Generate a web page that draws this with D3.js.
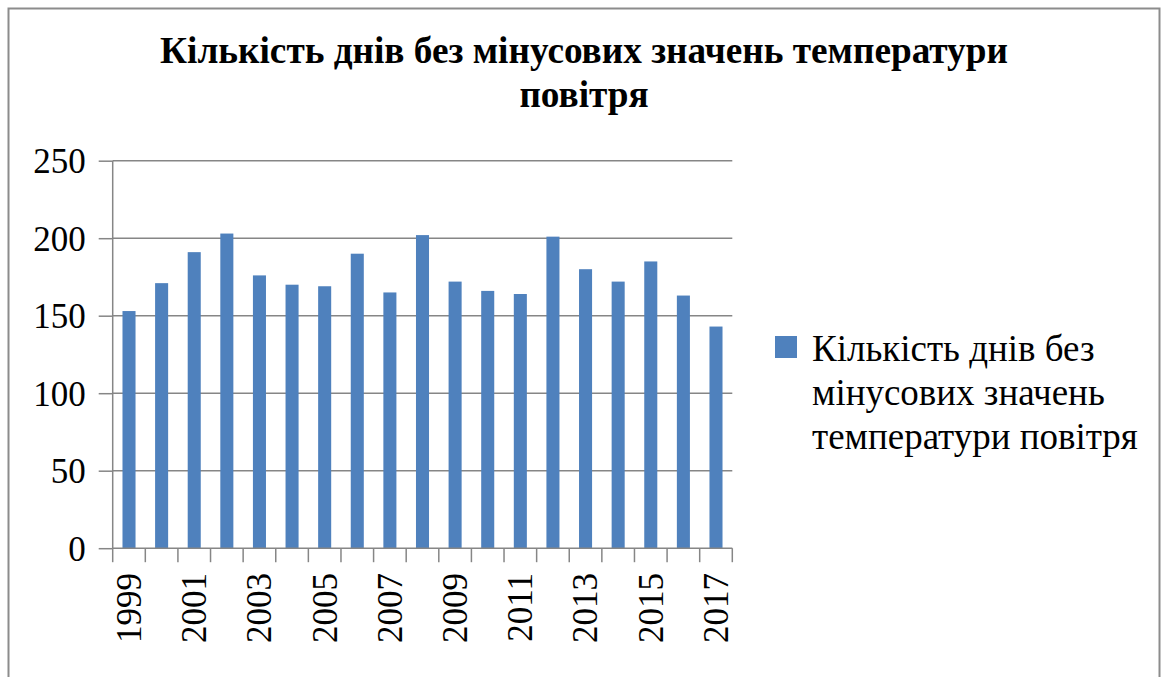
<!DOCTYPE html>
<html>
<head>
<meta charset="utf-8">
<script src="https://cdn.jsdelivr.net/npm/d3@7"></script>
<style>
  html, body { margin: 0; padding: 0; background: #fff; }
  svg { display: block; }
</style>
</head>
<body>
<svg id="chart" width="1164" height="677"></svg>
<script>
const years = ["1999","2000","2001","2002","2003","2004","2005","2006","2007","2008","2009","2010","2011","2012","2013","2014","2015","2016","2017"];
const values = [153,171,191,203,176,170,169,190,165,202,172,166,164,201,180,172,185,163,143];
const yTicks = [0,50,100,150,200,250];
const titleLines = ["Кількість днів без мінусових значень температури", "повітря"];
const legendLines = ["Кількість днів без", "мінусових значень", "температури повітря"];

const svg = d3.select("#chart");
const font = "'Liberation Serif', 'Times New Roman', serif";
const gridColor = "#868686";
const barColor = "#4F81BD";

// outer frame
svg.append("rect")
  .attr("x", 8.5).attr("y", 8.5)
  .attr("width", 1151).attr("height", 700)
  .attr("fill", "#fff")
  .attr("stroke", "#8c8c8c").attr("stroke-width", 2);

const plot = { left: 112.7, right: 732.3, top: 160.7, bottom: 548.2 };

const x = d3.scaleBand().domain(years).range([plot.left, plot.right]).paddingInner(0.6).paddingOuter(0.3);
const y = d3.scaleLinear().domain([0, 250]).range([plot.bottom, plot.top]);

// fit a text element's font size so its widest line spans the target width
function fitFont(sel, target) {
  let w = 0;
  sel.selectAll("tspan").each(function() { w = Math.max(w, this.getComputedTextLength()); });
  const fs = +sel.attr("font-size");
  if (w > 0) sel.attr("font-size", fs * target / w);
}

// title
const title = svg.append("text")
  .attr("text-anchor", "middle")
  .attr("font-family", font)
  .attr("font-weight", "bold")
  .attr("font-size", 37)
  .attr("fill", "#000");
titleLines.forEach((t, i) => {
  title.append("tspan").attr("x", 584).attr("y", 63 + i * 44).text(t);
});
fitFont(title, 848);

// gridlines
svg.append("g")
  .selectAll("line")
  .data(yTicks.filter(d => d > 0))
  .join("line")
  .attr("x1", plot.left).attr("x2", plot.right)
  .attr("y1", d => y(d)).attr("y2", d => y(d))
  .attr("stroke", gridColor).attr("stroke-width", 1.5);

// bars
svg.append("g")
  .selectAll("rect")
  .data(years.map((yr, i) => ({ yr, v: values[i] })))
  .join("rect")
  .attr("x", d => x(d.yr))
  .attr("y", d => y(d.v))
  .attr("width", x.bandwidth())
  .attr("height", d => y(0) - y(d.v))
  .attr("fill", barColor);

// y axis
const yAxis = d3.axisLeft(y).tickValues(yTicks).tickSize(14).tickPadding(13).tickFormat(d3.format("d"));
const gy = svg.append("g").attr("transform", `translate(${plot.left},0)`).call(yAxis);
gy.select(".domain").attr("stroke", gridColor).attr("stroke-width", 1.5).attr("d", `M0,${plot.top}V${plot.bottom}`);
gy.selectAll(".tick line").attr("stroke", gridColor).attr("stroke-width", 1.5);
gy.selectAll(".tick text").attr("font-family", font).attr("font-size", 35).attr("fill", "#000").attr("dy", "0.34em");

// x axis: tick marks at band boundaries
const boundaries = d3.range(years.length + 1).map(i => plot.left + i * (plot.right - plot.left) / years.length);
const gx = svg.append("g");
gx.append("line")
  .attr("x1", plot.left).attr("x2", plot.right)
  .attr("y1", plot.bottom).attr("y2", plot.bottom)
  .attr("stroke", gridColor).attr("stroke-width", 1.5);
gx.selectAll("line.tk")
  .data(boundaries)
  .join("line").attr("class", "tk")
  .attr("x1", d => d).attr("x2", d => d)
  .attr("y1", plot.bottom).attr("y2", plot.bottom + 14)
  .attr("stroke", gridColor).attr("stroke-width", 1.5);
gx.selectAll("text")
  .data(years.filter((d, i) => i % 2 === 0))
  .join("text")
  .attr("transform", d => `translate(${x(d) + x.bandwidth() / 2},573) rotate(-90)`)
  .attr("text-anchor", "end")
  .attr("dy", "0.34em")
  .attr("font-family", font).attr("font-size", 35).attr("fill", "#000")
  .text(d => d);

// legend
svg.append("rect")
  .attr("x", 775).attr("y", 336)
  .attr("width", 22).attr("height", 22)
  .attr("fill", barColor);
const leg = svg.append("text")
  .attr("font-family", font).attr("font-size", 37).attr("fill", "#000");
legendLines.forEach((t, i) => {
  leg.append("tspan").attr("x", 812).attr("y", 361 + i * 44).text(t);
});
fitFont(leg, 326);
</script>
</body>
</html>
